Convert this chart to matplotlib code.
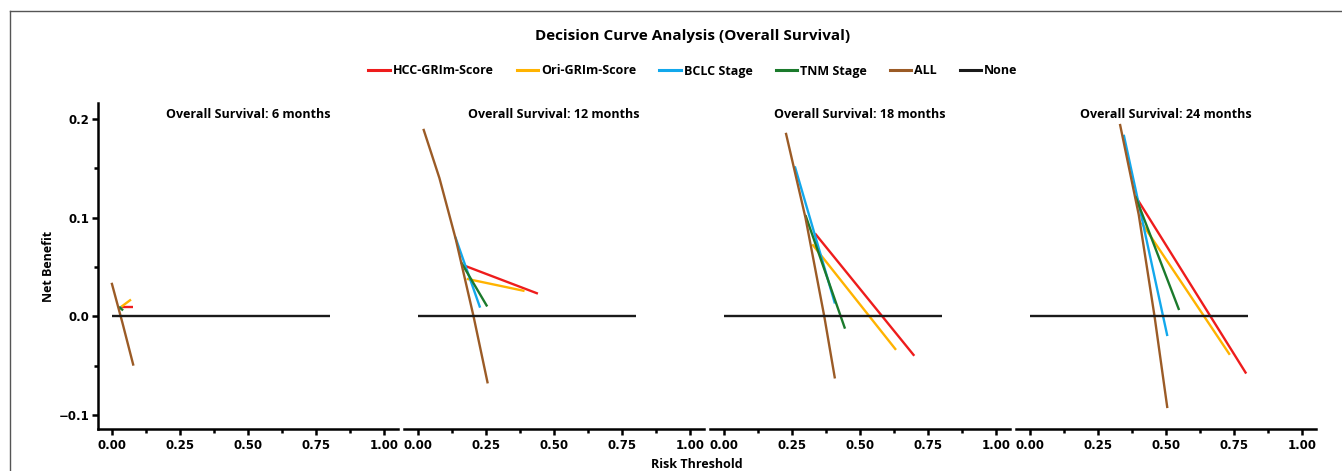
import matplotlib
matplotlib.use("Agg")
import matplotlib.pyplot as plt
from matplotlib.ticker import FixedLocator
from matplotlib.lines import Line2D

TXT = ['Open Sans', 'DejaVu Sans']
TICK = ['DejaVu Sans']
plt.rcParams['font.family'] = TXT
plt.rcParams['font.weight'] = 'bold'

panel_titles = ["Overall Survival: 6 months", "Overall Survival: 12 months",
                "Overall Survival: 18 months", "Overall Survival: 24 months"]
series_names = ["HCC-GRIm-Score", "Ori-GRIm-Score", "BCLC Stage", "TNM Stage", "ALL", "None"]
series_colors = ["#ee1c1c", "#ffb300", "#12a8ec", "#1b7a2c", "#9b5b26", "#1a1a1a"]

# values, one list per panel (6, 12, 18, 24 months)
hcc_x = [[0.035, 0.080], [0.175, 0.441], [0.335, 0.699], [0.392, 0.794]]
hcc_y = [[0.0095, 0.0095], [0.051, 0.023], [0.084, -0.040], [0.120, -0.058]]

ori_x = [[0.031, 0.071], [0.180, 0.392], [0.325, 0.632], [0.410, 0.734]]
ori_y = [[0.0088, 0.017], [0.038, 0.0257], [0.073, -0.034], [0.095, -0.039]]

bclc_x = [[0.028, 0.036], [0.138, 0.229], [0.261, 0.408], [0.345, 0.505]]
bclc_y = [[0.0095, 0.0080], [0.0805, 0.0088], [0.152, 0.013], [0.184, -0.020]]

tnm_x = [[0.027, 0.042], [0.159, 0.255], [0.300, 0.445], [0.388, 0.548]]
tnm_y = [[0.0095, 0.006], [0.055, 0.010], [0.1025, -0.0125], [0.1215, 0.0064]]

all_x = [[0.000, 0.040, 0.080], [0.021, 0.080, 0.140, 0.205, 0.257],
         [0.228, 0.300, 0.369, 0.408], [0.331, 0.400, 0.458, 0.505]]
all_y = [[0.034, -0.007, -0.050], [0.190, 0.140, 0.078, 0.000, -0.068],
         [0.186, 0.100, 0.000, -0.063], [0.195, 0.103, 0.000, -0.093]]

none_x = [[0.0, 0.8], [0.0, 0.8], [0.0, 0.8], [0.0, 0.8]]
none_y = [[0.0, 0.0], [0.0, 0.0], [0.0, 0.0], [0.0, 0.0]]

x_ticks = [0.0, 0.25, 0.5, 0.75, 1.0]
x_ticklabels = ["0.00", "0.25", "0.50", "0.75", "1.00"]
y_ticks = [-0.1, 0.0, 0.1, 0.2]
y_ticklabels = ["\u22120.1", "0.0", "0.1", "0.2"]

W, H = 1342, 471
fig = plt.figure(figsize=(W / 100, H / 100), dpi=100)

# partial frame (top and left lines)
fig.add_artist(Line2D([9.5 / W, 1.0], [1 - 11 / H, 1 - 11 / H], color="#555555", lw=1.0, transform=fig.transFigure))
fig.add_artist(Line2D([9.5 / W, 9.5 / W], [0.0, 1 - 11 / H], color="#555555", lw=1.0, transform=fig.transFigure))

all_series = [(hcc_x, hcc_y), (ori_x, ori_y), (bclc_x, bclc_y), (tnm_x, tnm_y), (all_x, all_y), (none_x, none_y)]

for i in range(4):
    left = (98 + 306 * i) / W
    ax = fig.add_axes([left, 1 - 429 / H, 300 / W, 326 / H])
    for (sx, sy), col in zip(all_series, series_colors):
        ax.plot(sx[i], sy[i], color=col, lw=1.7, solid_capstyle='butt')
    ax.set_xlim(-0.05, 1.05)
    ax.set_ylim(-0.1142, 0.2162)
    ax.spines['top'].set_visible(False)
    ax.spines['right'].set_visible(False)
    ax.spines['bottom'].set_linewidth(1.8)
    ax.spines['left'].set_linewidth(1.8)
    ax.xaxis.set_major_locator(FixedLocator(x_ticks))
    ax.set_xticklabels(x_ticklabels)
    ax.xaxis.set_minor_locator(FixedLocator([0.125, 0.375, 0.625, 0.875]))
    ax.tick_params(axis='x', which='major', length=4, width=1.8, labelsize=8.5, pad=3)
    ax.tick_params(axis='x', which='minor', length=3, width=1.8)
    if i == 0:
        ax.yaxis.set_major_locator(FixedLocator(y_ticks))
        ax.set_yticklabels(y_ticklabels)
        ax.yaxis.set_minor_locator(FixedLocator([-0.05, 0.05, 0.15]))
        ax.tick_params(axis='y', which='major', length=4, width=1.8, labelsize=8.5, pad=2)
        ax.tick_params(axis='y', which='minor', length=3, width=1.8)
        ax.set_ylabel("Net Benefit", fontsize=9, fontweight='bold', labelpad=3)
    else:
        ax.spines['left'].set_visible(False)
        ax.set_yticks([])
        ax.tick_params(axis='y', which='both', left=False, labelleft=False)
    for lab in ax.get_xticklabels() + ax.get_yticklabels():
        lab.set_fontweight('bold')
        lab.set_family(TICK)
    ax.text(0.5, 0.985, panel_titles[i], transform=ax.transAxes, ha='center', va='top',
            fontsize=9, fontweight='bold')

fig.text(697 / W, 1 - 465 / H, "Risk Threshold", ha='center', va='center', fontsize=9, fontweight='bold')
fig.text(693 / W, 1 - 36 / H, "Decision Curve Analysis (Overall Survival)", ha='center', va='center',
         fontsize=11, fontweight='bold')

handles = [Line2D([], [], color=c, lw=2.2) for c in series_colors]
leg = fig.legend(handles, series_names, loc='center', bbox_to_anchor=(693 / W, 1 - 71 / H),
                 ncol=6, frameon=False, handlelength=1.7, handletextpad=0.25,
                 columnspacing=1.85, prop={'weight': 'bold', 'size': 9, 'family': TXT})

fig.savefig("out.png", dpi=100)
